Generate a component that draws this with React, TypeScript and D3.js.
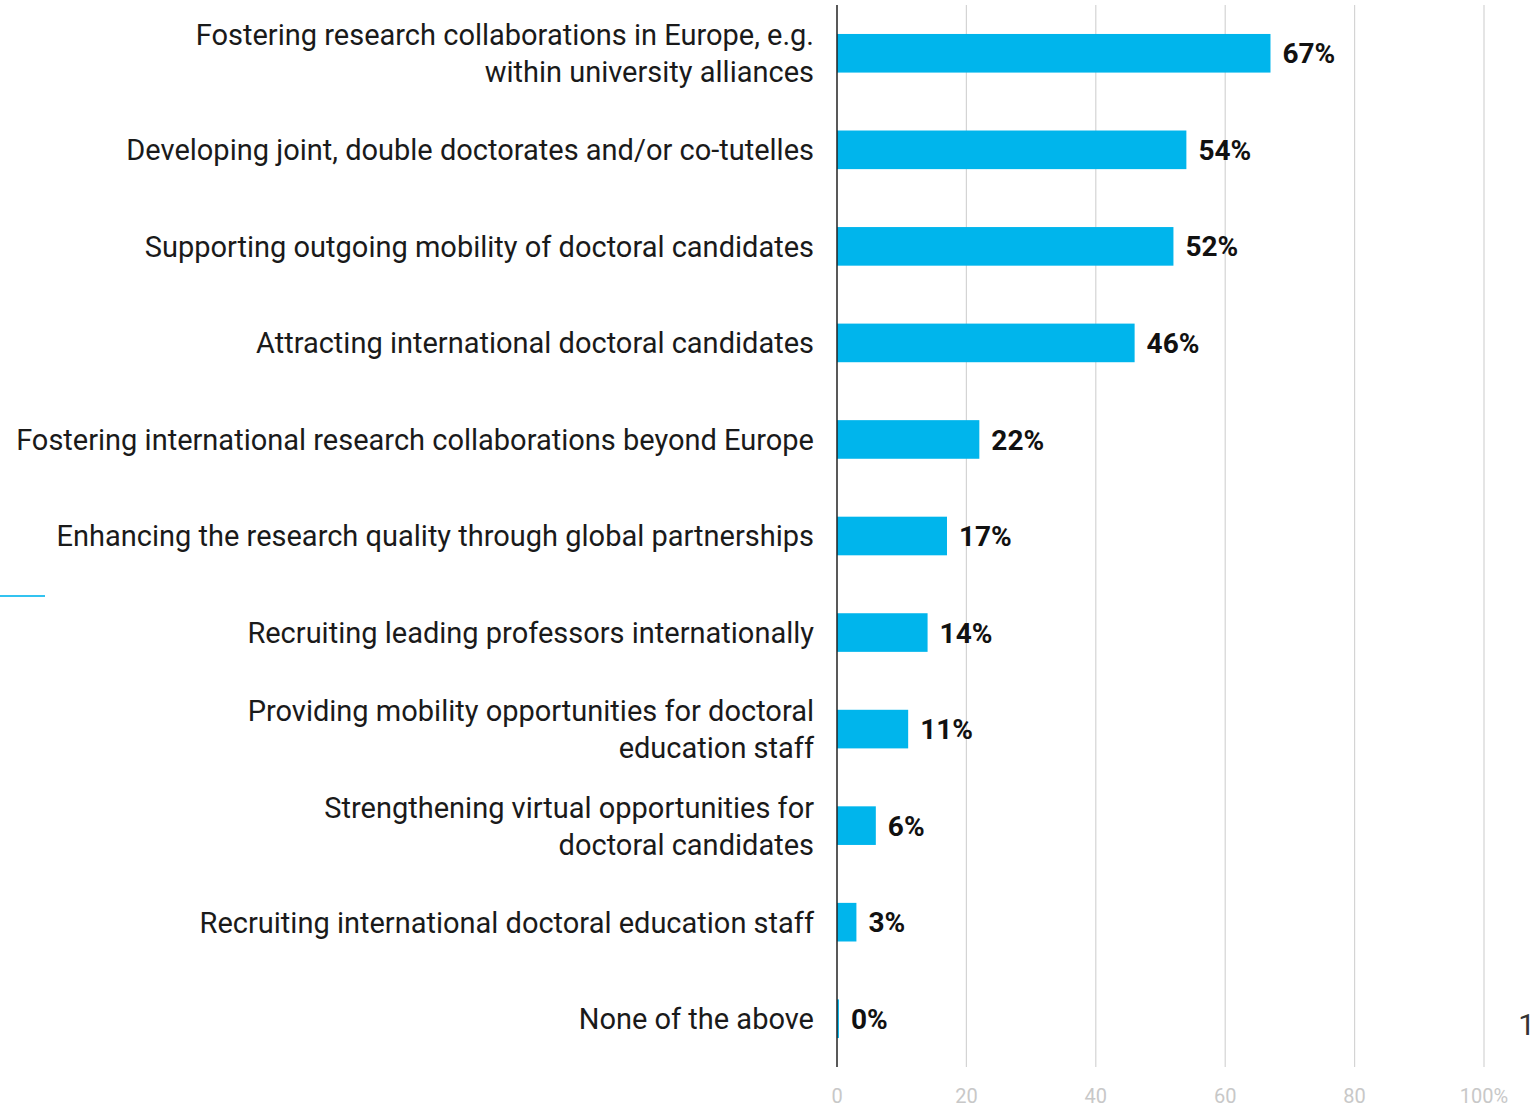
import React from "react";
import * as d3 from "d3";

const categories: string[][] = [
  ["Fostering research collaborations in Europe, e.g.", "within university alliances"],
  ["Developing joint, double doctorates and/or co-tutelles"],
  ["Supporting outgoing mobility of doctoral candidates"],
  ["Attracting international doctoral candidates"],
  ["Fostering international research collaborations beyond Europe"],
  ["Enhancing the research quality through global partnerships"],
  ["Recruiting leading professors internationally"],
  ["Providing mobility opportunities for doctoral", "education staff"],
  ["Strengthening virtual opportunities for", "doctoral candidates"],
  ["Recruiting international doctoral education staff"],
  ["None of the above"],
];
const values: number[] = [67, 54, 52, 46, 22, 17, 14, 11, 6, 3, 0.3];
const valueLabels: string[] = ["67%", "54%", "52%", "46%", "22%", "17%", "14%", "11%", "6%", "3%", "0%"];
const ticks: number[] = [0, 20, 40, 60, 80, 100];
const tickLabels: string[] = ["0", "20", "40", "60", "80", "100%"];

const W = 1537;
const H = 1107;
const FONT = "Roboto, 'Noto Sans', sans-serif";

export default function App() {
  const x = d3.scaleLinear().domain([0, 100]).range([837, 1484]);
  const y = d3
    .scaleBand<number>()
    .domain(d3.range(categories.length))
    .range([5, 1067])
    .paddingInner(0.6)
    .paddingOuter(0.3);
  const bw = y.bandwidth();

  return (
    <svg
      width={W}
      height={H}
      style={{ position: "absolute", left: 0, top: 0, display: "block", background: "#fff" }}
      fontFamily={FONT}
    >
      {ticks.map((t, i) => (
        <g key={t}>
          {t !== 0 && (
            <line x1={x(t)} x2={x(t)} y1={5} y2={1067} stroke="#d4d4d4" strokeWidth={1.2} />
          )}
          <text x={x(t)} y={1096} dy="0.36em" textAnchor="middle" fontSize={20} fill="#c8c8c8">
            {tickLabels[i]}
          </text>
        </g>
      ))}
      {values.map((v, i) => {
        const cy = (y(i) as number) + bw / 2;
        return (
          <g key={i}>
            <rect x={x(0)} y={y(i)} width={x(v) - x(0)} height={bw} fill="#00b5ec" />
            <text
              x={x(v) + 12}
              y={cy}
              dy="0.36em"
              fontSize={28}
              fontWeight={700}
              fill="#111"
            >
              {valueLabels[i]}
            </text>
            {categories[i].map((line, j) => (
              <text
                key={j}
                x={814}
                y={cy + (j - (categories[i].length - 1) / 2) * 37}
                dy="0.36em"
                textAnchor="end"
                fontSize={29}
                fill="#1a1a1a"
              >
                {line}
              </text>
            ))}
          </g>
        );
      })}
      <line x1={x(0)} x2={x(0)} y1={5} y2={1067} stroke="#222" strokeWidth={1.5} />
      <line x1={0} x2={45} y1={596} y2={596} stroke="#33c3f0" strokeWidth={2} />
      <text x={1535} y={1035} textAnchor="end" fontSize={30} fill="#333">
        1
      </text>
    </svg>
  );
}
